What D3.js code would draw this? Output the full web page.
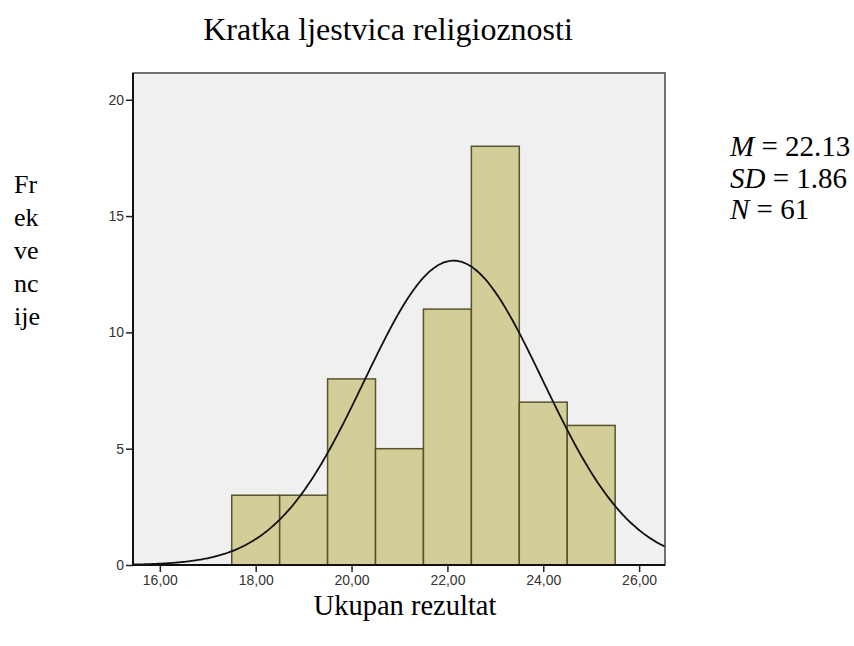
<!DOCTYPE html>
<html><head><meta charset="utf-8">
<script src="https://cdn.jsdelivr.net/npm/d3@7"></script>
<style>body{margin:0;background:#fff}</style>
</head><body>
<svg id="c" width="854" height="646"></svg>
<script>
// Data
const binStarts = [17.5, 18.5, 19.5, 20.5, 21.5, 22.5, 23.5, 24.5];
const counts    = [3, 3, 8, 5, 11, 18, 7, 6];
const binWidth = 1;
const statMean = 22.13, statSD = 1.86, statN = 61;
const xTicks = [16, 18, 20, 22, 24, 26];
const yTicks = [0, 5, 10, 15, 20];
const yLabelLines = ["Fr", "ek", "ve", "nc", "ije"];

const svg = d3.select("#c");
const L = 133, R = 665, T = 73, B = 565;
const x = d3.scaleLinear().domain([15.44, 26.54]).range([L, R]);
const y = d3.scaleLinear().domain([0, 21.15]).range([B, T]);

svg.append("rect").attr("x", L).attr("y", T).attr("width", R - L).attr("height", B - T)
  .attr("fill", "#f0f0f0");

svg.append("g").selectAll("rect").data(binStarts).join("rect")
  .attr("x", d => x(d)).attr("width", d => x(d + binWidth) - x(d))
  .attr("y", (d, i) => y(counts[i])).attr("height", (d, i) => B - y(counts[i]))
  .attr("fill", "#d3cd98").attr("stroke", "#57532f").attr("stroke-width", 1.5);

// normal curve from stats
const pdf = v => statN * binWidth / (statSD * Math.sqrt(2 * Math.PI)) * Math.exp(-0.5 * ((v - statMean) / statSD) ** 2);
const xs = d3.range(0, 301).map(i => 15.44 + (26.54 - 15.44) * i / 300);
svg.append("path").datum(xs)
  .attr("d", d3.line().x(d => x(d)).y(d => y(pdf(d))).curve(d3.curveBasis))
  .attr("fill", "none").attr("stroke", "#111").attr("stroke-width", 1.8);

// frame
svg.append("rect").attr("x", L).attr("y", T).attr("width", R - L).attr("height", B - T)
  .attr("fill", "none").attr("stroke", "#444").attr("stroke-width", 1.5);
svg.append("line").attr("x1", L).attr("x2", L).attr("y1", T).attr("y2", B).attr("stroke", "#111").attr("stroke-width", 2);
svg.append("line").attr("x1", L).attr("x2", R).attr("y1", B).attr("y2", B).attr("stroke", "#111").attr("stroke-width", 2);

// axes
const ya = svg.append("g").attr("transform", `translate(${L},0)`)
  .call(d3.axisLeft(y).tickValues(yTicks).tickSize(7).tickPadding(2).tickFormat(d3.format("d")));
const xa = svg.append("g").attr("transform", `translate(0,${B})`)
  .call(d3.axisBottom(x).tickValues(xTicks).tickSize(7).tickPadding(3).tickFormat(d => d.toFixed(2).replace(".", ",")));
[ya, xa].forEach(a => {
  a.select(".domain").remove();
  a.selectAll(".tick line").attr("stroke", "#222").attr("stroke-width", 1.5);
  a.selectAll(".tick text").attr("fill", "#333").style("font-family", "Liberation Sans, Arial, sans-serif").style("font-size", "14px");
});

const serif = "Liberation Serif, Times New Roman, serif";
svg.append("text").attr("x", 388).attr("y", 40).attr("text-anchor", "middle")
  .style("font-family", serif).style("font-size", "32px").text("Kratka ljestvica religioznosti");
svg.append("text").attr("x", 405).attr("y", 615).attr("text-anchor", "middle")
  .style("font-family", serif).style("font-size", "28.5px").text("Ukupan rezultat");

svg.append("g").selectAll("text").data(yLabelLines).join("text")
  .attr("x", 14).attr("y", (d, i) => 193 + i * 33)
  .style("font-family", serif).style("font-size", "26px").text(d => d);

const stats = [["M", "22.13"], ["SD", "1.86"], ["N", "61"]];
const st = svg.append("g").selectAll("text").data(stats).join("text")
  .attr("x", 730).attr("y", (d, i) => 156 + i * 31.5)
  .style("font-family", serif).style("font-size", "29px");
st.append("tspan").style("font-style", "italic").text(d => d[0]);
st.append("tspan").text(d => " = " + d[1]);
</script>
</body></html>
